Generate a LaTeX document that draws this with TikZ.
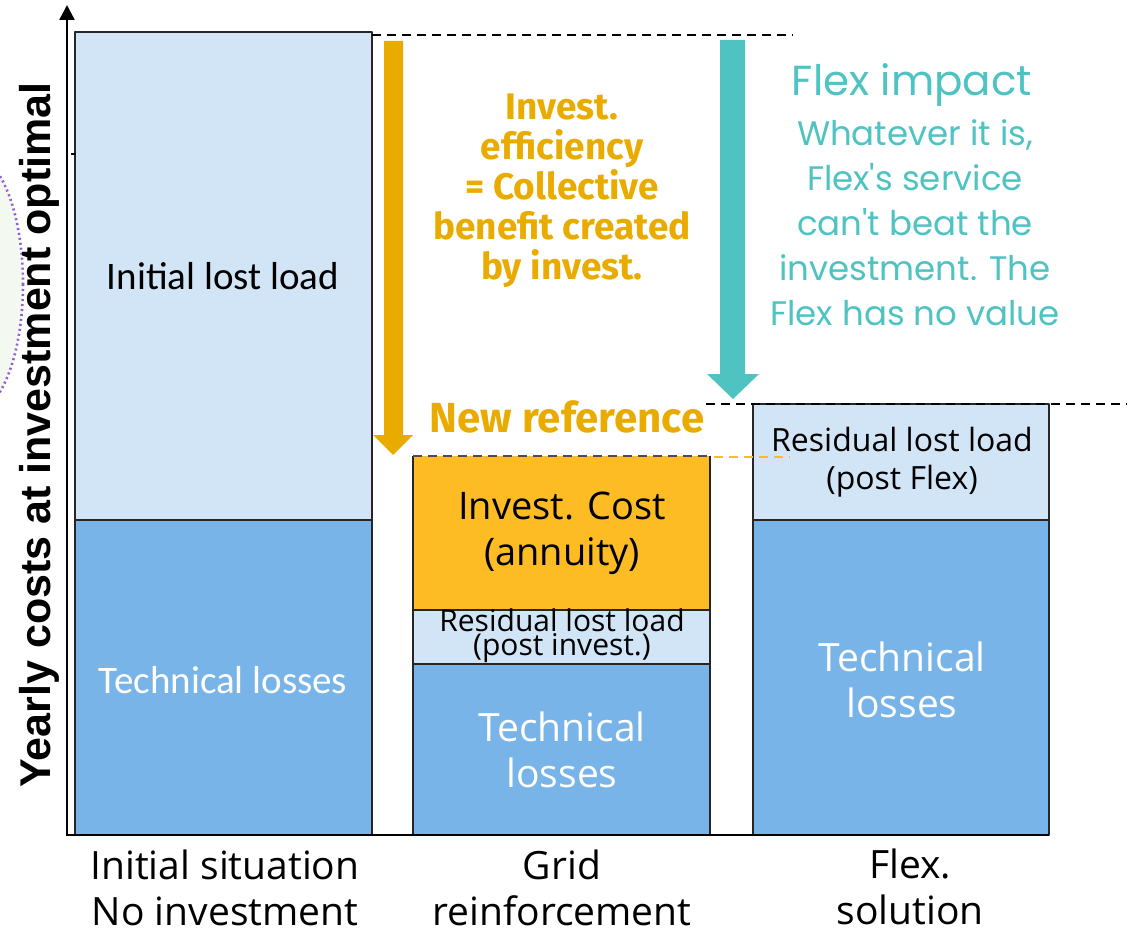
\documentclass[tikz,border=0pt]{standalone}
\usepackage{fontspec}
\setmainfont{Open Sans}
\newfontfamily\calfont{Carlito}
\newfontfamily\geofont{Poppins}
\newfontfamily\boldfont{Fira Sans}
\newfontfamily\headfont{Liberation Sans}
\usetikzlibrary{positioning,arrows.meta}
\definecolor{lightblue}{HTML}{D2E5F6}
\definecolor{midblue}{HTML}{78B4E7}
\definecolor{investbar}{HTML}{FDBC24}
\definecolor{investtext}{HTML}{EAAB00}
\definecolor{flexteal}{HTML}{4EC3C2}
\definecolor{ovalpurple}{HTML}{8E5FD6}
\definecolor{ovalfill}{HTML}{F3F8F1}
\begin{document}
\begin{tikzpicture}[x=1pt,y=-1pt,line join=round,>=Triangle]
			\tikzset{bar/.style={draw=black!85,line width=1.3pt},
				barlabel/.style={align=center,inner sep=0pt},
				refline/.style={dashed,dash pattern=on 9pt off 6pt,line width=2pt}}
			\useasboundingbox (0,0) rectangle (1133,934);
			\draw[ovalpurple,fill=ovalfill,line width=2.6pt,dash pattern=on 2pt off 3pt] (-27,284) ellipse [x radius=50, y radius=128];
			% bars
			\draw[bar,fill=lightblue] (75,32) rectangle (372,520);
			\draw[bar,fill=midblue] (75,520) rectangle (372,835);
			\fill[investbar] (413,456) rectangle (710,610);
			\draw[bar] (413,456) -- (413,610) -- (710,610) -- (710,456);
			\draw[bar,fill=lightblue] (413,610) rectangle (710,664);
			\draw[bar,fill=midblue] (413,664) rectangle (710,835);
			\draw[bar,fill=lightblue] (753,404) rectangle (1049,520);
			\draw[bar,fill=midblue] (753,520) rectangle (1049,835);
			% axes
			\draw[line width=2.4pt,-{Triangle[length=15pt,width=15pt]}] (67,836) -- (67,5);
			\draw[line width=2pt] (66,835) -- (1049,835);
			\draw[line width=2pt] (71,154) -- (76,154);
			% reference lines
			\draw[refline] (372,35) -- (793,35);
			\draw[refline] (706,404) -- (1127,404);
			\draw[refline,line width=1.2pt,black!70] (413,456) -- (710,456);
			\draw[refline,investbar] (714,457) -- (790,457);
			% arrows
			\fill[investtext] (384,41) -- (403,41) -- (403,435) -- (413,435) -- (393,455) -- (373,435) -- (384,435) -- cycle;
			\fill[flexteal] (720,40) -- (745,40) -- (745,374) -- (759,374) -- (733,399) -- (707,374) -- (720,374) -- cycle;
			% labels
			\node[barlabel,font=\calfont\fontsize{39}{46}\selectfont] (lostload) at (223,276) {Initial lost load};
			\node[barlabel,white,font=\calfont\fontsize{39}{46}\selectfont] (techA) at (223,680) {Technical losses};
			\node[barlabel,font=\fontsize{38}{46}\selectfont] (investcost) at (562,533) {Invest. Cost\\(annuity)};
			\node[barlabel,font=\fontsize{30}{24}\selectfont] (residB) at (562,636) {Residual lost load\\(post invest.)};
			\node[barlabel,white,font=\fontsize{39}{46}\selectfont] (techB) at (562,750) {Technical\\losses};
			\node[barlabel,font=\fontsize{32}{38}\selectfont] (residC) at (902,462) {Residual lost load\\(post Flex)};
			\node[barlabel,white,font=\fontsize{39}{46}\selectfont] (techC) at (902,680) {Technical\\losses};
			\node[barlabel,font=\fontsize{39}{46}\selectfont] (sitA) at (225,888) {Initial situation\\No investment};
			\node[barlabel,font=\fontsize{39}{46}\selectfont] (sitB) at (562,888) {Grid\\reinforcement};
			\node[barlabel,font=\fontsize{39}{46}\selectfont] (sitC) at (910,887) {Flex.\\solution};
			\node[barlabel,rotate=90,font=\headfont\bfseries\fontsize{43}{48}\selectfont] (yaxis) at (39,435) {Yearly costs at investment optimal};
			\node[barlabel,investtext,font=\boldfont\bfseries\fontsize{42}{46}\selectfont] (newref) at (567,417) {New reference};
			\node[barlabel,investtext,font=\boldfont\bfseries\fontsize{37}{40}\selectfont] (efficiency) at (562,191) {Invest.\\efficiency\\= Collective\\benefit created\\by invest.};
			\node[barlabel,flexteal,font=\geofont\fontsize{42}{46}\selectfont] (flexhead) at (912,85) {Flex impact};
			\node[barlabel,flexteal,font=\geofont\fontsize{34}{45}\selectfont] (flexnote) at (915,223) {Whatever it is,\\Flex's service\\can't beat the\\investment. The\\Flex has no value};
		\end{tikzpicture}
\end{document}
